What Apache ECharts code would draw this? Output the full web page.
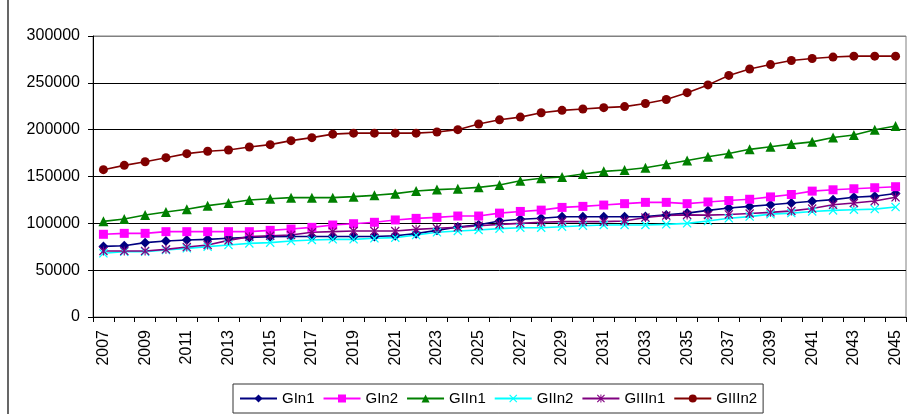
<!DOCTYPE html>
<html>
<head>
<meta charset="utf-8">
<script src="https://cdn.jsdelivr.net/npm/echarts@6/dist/echarts.min.js"></script>
<style>
html,body{margin:0;padding:0;background:#fff;}
#chart{width:908px;height:414px;}
</style>
</head>
<body>
<div id="chart"></div>
<script>
var years = [];
for (var y = 2007; y <= 2045; y++) years.push(String(y));

var GIn1 = [75400,76100,79400,81100,82200,82900,84000,85000,85800,86000,86000,86000,86000,86000,86800,89000,92500,96000,98500,102500,104300,105400,107000,107000,107000,107000,107200,109000,110900,113800,116300,118100,119900,121700,123500,125300,127900,129000,131900];
var GIn2 = [88300,89300,89300,91100,91100,91100,91100,91100,92500,93900,95700,98200,99600,101100,103600,105300,106400,107800,107800,110900,112700,114100,117000,118100,119500,121000,122400,122400,121000,122800,124300,125700,128200,130800,134400,135800,136900,138000,139100];
var GIIn1 = [102100,104600,108900,112100,115000,118900,121700,124900,126300,127400,127400,127400,128500,129900,131700,134500,136000,137000,138400,141000,145500,148200,149500,152700,155500,157000,159400,163000,167000,171000,174500,179000,181700,184600,187000,191700,194300,200000,204000];
var GIIn2 = [68000,69700,69700,71500,73300,75100,76900,78600,79400,81100,82200,82900,82900,84000,84700,87500,90400,91800,92900,94300,95300,95300,96400,97500,98200,98200,98200,98900,100000,102500,105400,107200,109800,110900,112700,113800,114500,115200,117400];
var GIIIn1 = [70500,70500,70500,72200,74700,76900,81800,85800,86800,87500,90400,91100,91800,91800,91800,93600,94700,95700,97500,98900,100000,101100,101800,101800,101800,102500,106200,108300,109000,108800,109500,110500,111700,113300,115800,119800,121700,123800,127800];
var GIIIn2 = [157300,161900,165800,170100,174400,176900,178300,181500,184000,188300,191500,195200,196300,196300,196300,196300,197500,200000,206100,210500,213400,218100,220600,222100,223500,224600,227900,232200,239500,247800,257900,264800,269500,273800,276000,277500,278500,278500,278500];

var yTicks = [0,50000,100000,150000,200000,250000,300000];

var X_PATH = 'path://M0,1 L1,0 L5,4 L9,0 L10,1 L6,5 L10,9 L9,10 L5,6 L1,10 L0,9 L4,5 Z';
var AST_PATH = 'path://M0,1 L1,0 L5,4 L9,0 L10,1 L6,5 L10,9 L9,10 L5,6 L1,10 L0,9 L4,5 Z M4.4,0 L5.6,0 L5.6,10 L4.4,10 Z';

var FONT = 'Arial, "Liberation Sans", sans-serif';

function mk(name, data, color, symbol, size) {
  return {
    name: name, type: 'line', data: data,
    symbol: symbol, symbolSize: size,
    showAllSymbol: true,
    itemStyle: {color: color},
    lineStyle: {color: color, width: 1.6},
    emphasis: {disabled: true}
  };
}

var chart = echarts.init(document.getElementById('chart'), null, {renderer: 'canvas'});
chart.setOption({
  animation: false,
  backgroundColor: '#fff',
  textStyle: {fontFamily: FONT},
  graphic: [{
    type: 'line', shape: {x1: 8, y1: 0, x2: 8, y2: 414},
    style: {stroke: '#000', lineWidth: 1.2}
  }],
  grid: {
    left: 93, right: 2, top: 36, bottom: 97,
    show: true, borderColor: '#808080', borderWidth: 1, backgroundColor: 'transparent'
  },
  legend: {
    left: 233, top: 384,
    padding: [7, 6, 7, 6],
    itemWidth: 37, itemHeight: 10, itemGap: 8,
    borderColor: '#333', borderWidth: 1,
    textStyle: {fontSize: 15, color: '#000', fontFamily: FONT},
    data: ['GIn1','GIn2','GIIn1','GIIn2','GIIIn1','GIIIn2']
  },
  xAxis: {
    type: 'category', data: years, boundaryGap: true,
    axisLine: {lineStyle: {color: '#000', width: 1}},
    axisTick: {show: true, interval: 0, length: 5, lineStyle: {color: '#000'}},
    axisLabel: {interval: 1, rotate: 90, margin: 13, fontSize: 16, color: '#000', fontFamily: FONT},
    splitLine: {show: false}
  },
  yAxis: {
    type: 'value', min: yTicks[0], max: yTicks[yTicks.length-1], interval: 50000,
    axisLine: {show: true, lineStyle: {color: '#000', width: 1}},
    axisTick: {show: true, length: 5, lineStyle: {color: '#000'}},
    axisLabel: {margin: 13, fontSize: 16, color: '#000', fontFamily: FONT,
      formatter: function (v) { return String(v); }},
    splitLine: {show: true, lineStyle: {color: ['#000','#000','#000','#000','#000','#000','#808080'], width: 1}}
  },
  series: [
    mk('GIn1', GIn1, '#000080', 'diamond', 10),
    mk('GIn2', GIn2, '#FF00FF', 'rect', 9),
    mk('GIIn1', GIIn1, '#008000', 'triangle', 10),
    mk('GIIn2', GIIn2, '#00FFFF', X_PATH, 9),
    mk('GIIIn1', GIIIn1, '#800080', AST_PATH, 9),
    mk('GIIIn2', GIIIn2, '#800000', 'circle', 9)
  ]
});
</script>
</body>
</html>
